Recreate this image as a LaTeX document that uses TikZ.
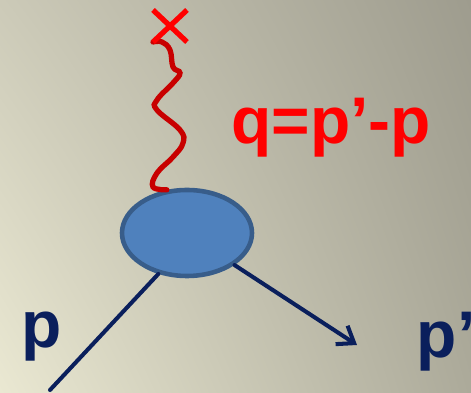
\documentclass[tikz,border=0pt]{standalone}
\usepackage{fontspec}
\setmainfont{Liberation Sans}
\usepackage{tikz}
\usetikzlibrary{arrows.meta,shapes.geometric,shadings}
\definecolor{navy}{RGB}{10,31,92}
\definecolor{blobfill}{RGB}{79,129,189}
\definecolor{blobdraw}{RGB}{56,93,138}
\definecolor{photon}{RGB}{200,0,0}
\definecolor{bgll}{RGB}{234,232,210}
\definecolor{bgul}{RGB}{204,202,184}
\definecolor{bgur}{RGB}{158,156,142}
\definecolor{bglr}{RGB}{172,170,154}

\begin{document}
\begin{tikzpicture}[>={Straight Barb[length=3mm,width=4.4mm]},line cap=round,
  blob/.style={ellipse,draw=blobdraw,fill=blobfill,line width=2.6pt,minimum width=2.6cm,minimum height=1.72cm,inner sep=0pt},
  leg/.style={navy,line width=2.3pt},
  lbl/.style={font=\bfseries\fontsize{37.5}{40}\selectfont,inner sep=0pt}]
\useasboundingbox (0,0) rectangle (9.42,7.86);
\shade[lower left=bgll,upper left=bgul,upper right=bgur,lower right=bglr] (0,0) rectangle (9.42,7.86);
% vertex
\node[blob] (vtx) at (3.74,3.20) {};
\coordinate (pin) at (1.0,0.06);
\coordinate (pout) at (7.14,0.96);
\draw[leg] (pin) -- (vtx.235);
\draw[leg,->] (vtx.-34) -- (pout);
% virtual photon
\draw[photon,line width=3pt] plot[smooth,tension=0.7] coordinates {
  (vtx.115) (3.06,4.12) (3.14,4.40) (3.46,4.72) (3.66,5.00) (3.60,5.26)
  (3.14,5.66) (3.14,5.86) (3.46,6.20) (3.60,6.40) (3.46,6.52) (3.40,6.86)
  (3.24,7.02) (3.06,7.02)};
\coordinate (src) at (3.40,7.34);
\draw[red,line width=3pt,line cap=butt] ([shift={(-0.34,-0.32)}]src) -- ([shift={(0.34,0.32)}]src)
  ([shift={(-0.34,0.32)}]src) -- ([shift={(0.34,-0.32)}]src);
% labels
\node[lbl,navy,anchor=base] (plbl) at (0.83,0.90) {p};
\node[lbl,navy,anchor=base west] (pplbl) at (8.33,0.70) {p’};
\node[lbl,red,anchor=base west] (qlbl) at (4.62,4.98) {q=p’-p};
\end{tikzpicture}
\end{document}
